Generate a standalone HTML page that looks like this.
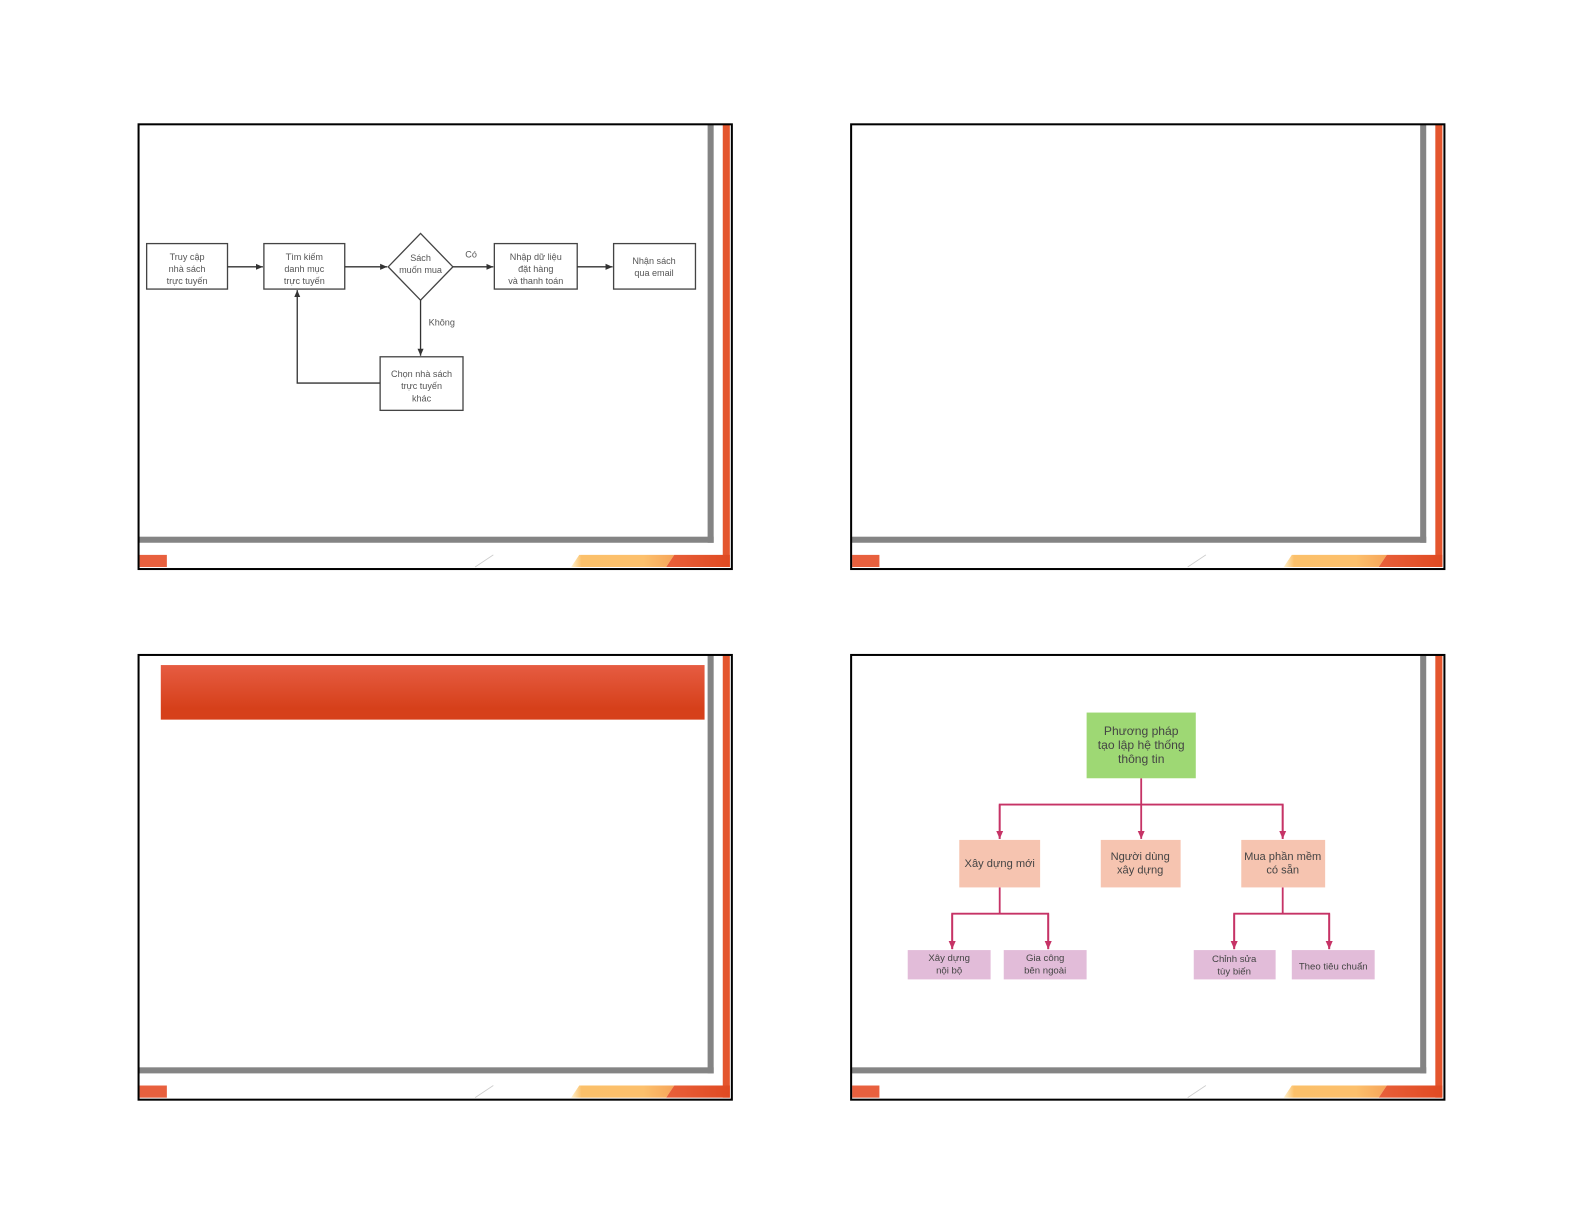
<!DOCTYPE html>
<html><head><meta charset="utf-8"><style>
html,body{margin:0;padding:0;background:#fff;width:1585px;height:1225px;overflow:hidden}
svg{display:block}
text{font-family:"Liberation Sans",sans-serif}
</style></head><body>
<svg width="1585" height="1225" viewBox="0 0 1568 1212" xmlns="http://www.w3.org/2000/svg">
<defs>
<linearGradient id="band" x1="0" x2="1" y1="0" y2="0">
<stop offset="0" stop-color="#fff3d0"/><stop offset="0.1" stop-color="#fbc06a"/><stop offset="0.7" stop-color="#fcc06c"/><stop offset="1" stop-color="#f6a55a"/>
</linearGradient>
<linearGradient id="dark" x1="0" x2="1"><stop offset="0" stop-color="#e8603a"/><stop offset="1" stop-color="#e04a22"/></linearGradient>
<linearGradient id="title" x1="0" x2="0" y1="0" y2="1"><stop offset="0" stop-color="#e65c42"/><stop offset="0.8" stop-color="#d6401a"/></linearGradient>
<marker id="ak" markerWidth="8" markerHeight="8" refX="7" refY="4" orient="auto" markerUnits="userSpaceOnUse"><path d="M0,1 L7,4 L0,7 z" fill="#333"/></marker>
<marker id="ap" markerWidth="9" markerHeight="9" refX="8" refY="4.5" orient="auto" markerUnits="userSpaceOnUse"><path d="M0,1 L8,4.5 L0,8 z" fill="#c63366"/></marker>
<g id="frame">
<rect x="0" y="0" width="587" height="440" fill="#fff"/>
<rect x="563" y="0" width="6" height="414" fill="#848484"/>
<rect x="0" y="408" width="569" height="6" fill="#848484"/>
<rect x="578" y="0" width="7" height="438" fill="#e4562e"/>
<polygon points="428,438 436,426 530,426 522,438" fill="url(#band)"/>
<polygon points="522,438 530,426 585,426 585,438" fill="url(#dark)"/>
<rect x="1" y="426" width="27" height="12" fill="#e8603e"/>
<line x1="333" y1="438" x2="351" y2="426" stroke="#ccc" stroke-width="0.8"/>
<rect x="0" y="0" width="587" height="440" fill="none" stroke="#000" stroke-width="2"/>
</g>
</defs>

<use href="#frame" x="137" y="123"/>
<use href="#frame" x="842" y="123"/>
<use href="#frame" x="137" y="648"/>
<use href="#frame" x="842" y="648"/>

<!-- Slide 1 flowchart -->
<g stroke="#444" stroke-width="1.3" fill="#fff">
<rect x="145" y="241" width="80" height="45"/>
<rect x="261" y="241" width="80" height="45"/>
<polygon points="416,231 448,264 416,297 384,264"/>
<rect x="489" y="241" width="82" height="45"/>
<rect x="607" y="241" width="81" height="45"/>
<rect x="376" y="353" width="82" height="53"/>
</g>
<g stroke="#333" stroke-width="1.3" fill="none">
<line x1="225" y1="264" x2="260" y2="264" marker-end="url(#ak)"/>
<line x1="341" y1="264" x2="383" y2="264" marker-end="url(#ak)"/>
<line x1="448" y1="264" x2="488" y2="264" marker-end="url(#ak)"/>
<line x1="571" y1="264" x2="606" y2="264" marker-end="url(#ak)"/>
<line x1="416" y1="297" x2="416" y2="352" marker-end="url(#ak)"/>
<polyline points="376,379 294,379 294,287" marker-end="url(#ak)"/>
</g>
<g font-size="9" fill="#555" text-anchor="middle">
<text x="185" y="257">Truy cập</text><text x="185" y="269">nhà sách</text><text x="185" y="281">trực tuyến</text>
<text x="301" y="257">Tìm kiếm</text><text x="301" y="269">danh mục</text><text x="301" y="281">trực tuyến</text>
<text x="416" y="258">Sách</text><text x="416" y="270">muốn mua</text>
<text x="530" y="257">Nhập dữ liệu</text><text x="530" y="269">đặt hàng</text><text x="530" y="281">và thanh toán</text>
<text x="647" y="261">Nhận sách</text><text x="647" y="273">qua email</text>
<text x="417" y="373">Chọn nhà sách</text><text x="417" y="385">trực tuyến</text><text x="417" y="397">khác</text>
<text x="466" y="255">Có</text>
<text x="437" y="322">Không</text>
</g>

<!-- Slide 3 title bar -->
<rect x="159" y="658" width="538" height="54" fill="url(#title)"/>

<!-- Slide 4 tree -->
<g stroke="#c63366" stroke-width="1.8" fill="none">
<line x1="1129" y1="770" x2="1129" y2="830" marker-end="url(#ap)"/>
<polyline points="989,830 989,796 1269,796 1269,830" />
<line x1="989" y1="796" x2="989" y2="830" marker-end="url(#ap)"/>
<line x1="1269" y1="796" x2="1269" y2="830" marker-end="url(#ap)"/>
<line x1="989" y1="878" x2="989" y2="904"/>
<polyline points="942,939 942,904 1037,904 1037,939"/>
<line x1="942" y1="904" x2="942" y2="939" marker-end="url(#ap)"/>
<line x1="1037" y1="904" x2="1037" y2="939" marker-end="url(#ap)"/>
<line x1="1269" y1="878" x2="1269" y2="904"/>
<polyline points="1221,939 1221,904 1315,904 1315,939"/>
<line x1="1221" y1="904" x2="1221" y2="939" marker-end="url(#ap)"/>
<line x1="1315" y1="904" x2="1315" y2="939" marker-end="url(#ap)"/>
</g>
<rect x="1075" y="705" width="108" height="65" fill="#9ed874"/>
<g fill="#f6c4b0">
<rect x="949" y="831" width="80" height="47"/>
<rect x="1089" y="831" width="79" height="47"/>
<rect x="1228" y="831" width="83" height="47"/>
</g>
<g fill="#e2bcd9">
<rect x="898" y="940" width="82" height="29"/>
<rect x="993" y="940" width="82" height="29"/>
<rect x="1181" y="940" width="81" height="29"/>
<rect x="1278" y="940" width="82" height="29"/>
</g>
<g fill="#444" text-anchor="middle">
<g font-size="12"><text x="1129" y="727">Phương pháp</text><text x="1129" y="741">tạo lập hệ thống</text><text x="1129" y="755">thông tin</text></g>
<g font-size="11">
<text x="989" y="858">Xây dựng mới</text>
<text x="1128" y="851">Người dùng</text><text x="1128" y="864">xây dựng</text>
<text x="1269" y="851">Mua phần mềm</text><text x="1269" y="864">có sẵn</text>
</g>
<g font-size="9.5">
<text x="939" y="951">Xây dựng</text><text x="939" y="963">nội bộ</text>
<text x="1034" y="951">Gia công</text><text x="1034" y="963">bên ngoài</text>
<text x="1221" y="952">Chỉnh sửa</text><text x="1221" y="964">tùy biến</text>
<text x="1319" y="959">Theo tiêu chuẩn</text>
</g>
</g>
</svg>
</body></html>
